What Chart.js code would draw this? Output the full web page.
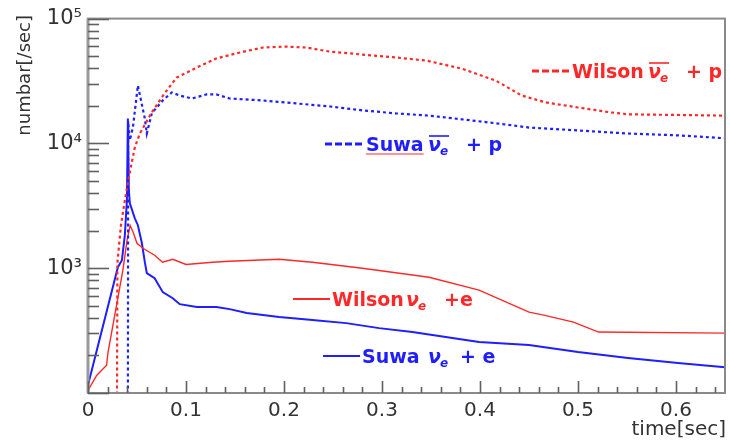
<!DOCTYPE html>
<html>
<head>
<meta charset="utf-8">
<script src="https://cdn.jsdelivr.net/npm/chart.js@4/dist/chart.umd.min.js"></script>
<style>
html,body{margin:0;padding:0;background:#fff;}
#wrap{width:730px;height:444px;position:relative;}
</style>
</head>
<body>
<div id="wrap"><canvas id="c" width="730" height="444"></canvas></div>
<script>
// ---- data (time in sec, rate in number/sec) ----
const wilsonAntiT = [0.0295, 0.0300, 0.0336, 0.0376, 0.0427, 0.0478, 0.0529, 0.065, 0.078, 0.0905, 0.111, 0.131, 0.155, 0.178, 0.202, 0.223, 0.246, 0.280, 0.314, 0.345, 0.381, 0.416, 0.4425, 0.467, 0.500, 0.534, 0.551, 0.650];
const wilsonAntiV = [50, 1100, 2200, 3500, 5900, 9300, 12000, 17700, 25100, 33700, 40500, 47900, 53500, 58600, 59700, 58600, 54500, 51500, 48800, 46100, 39800, 31900, 24200, 21300, 19400, 17700, 17100, 16700];

const suwaAntiT = [0.0407, 0.0410, 0.0427, 0.0458, 0.0509, 0.058, 0.060, 0.0651, 0.0763, 0.0855, 0.0936, 0.106, 0.121, 0.131, 0.1445, 0.178, 0.2126, 0.246, 0.280, 0.314, 0.348, 0.3815, 0.416, 0.450, 0.500, 0.551, 0.602, 0.650];
const suwaAntiV = [50, 15000, 10600, 13400, 29100, 15800, 12000, 17400, 22100, 25600, 24200, 22900, 24700, 24700, 22900, 22100, 20900, 19800, 18400, 17400, 16700, 15600, 14500, 13400, 12700, 12000, 11600, 11000];

const wilsonT = [0, 0.009, 0.019, 0.0203, 0.028, 0.0356, 0.040, 0.043, 0.046, 0.050, 0.056, 0.068, 0.076, 0.0865, 0.100, 0.127, 0.144, 0.195, 0.229, 0.280, 0.348, 0.399, 0.450, 0.465, 0.4954, 0.521, 0.650];
const wilsonV = [105, 139, 167, 209, 450, 964, 1700, 2200, 1950, 1585, 1445, 1270, 1117, 1180, 1072, 1117, 1138, 1180, 1117, 1000, 847, 667, 445, 421, 370, 308, 302];

const suwaT = [0, 0.0305, 0.0346, 0.0376, 0.0397, 0.0407, 0.0417, 0.0427, 0.0478, 0.0509, 0.055, 0.058, 0.060, 0.068, 0.0763, 0.0865, 0.0936, 0.111, 0.131, 0.1445, 0.162, 0.195, 0.229, 0.2635, 0.297, 0.331, 0.399, 0.450, 0.500, 0.551, 0.602, 0.650];
const suwaV = [116, 1019, 1160, 1840, 3500, 15800, 4200, 3310, 2510, 2210, 1585, 1117, 912, 832, 643, 575, 515, 488, 488, 470, 437, 406, 384, 363, 331, 308, 256, 242, 213, 191, 174, 161];

const xTickValues = [0, 0.1, 0.2, 0.3, 0.4, 0.5, 0.6];
const xTickLabels = ['0', '0.1', '0.2', '0.3', '0.4', '0.5', '0.6'];
const yTickValues = [1000, 10000, 100000];
const yTickLabels = ['10³', '10⁴', '10⁵'];
const xTitle = 'time[sec]';
const yTitle = 'numbar[/sec]';

const RED = 'rgb(255,40,40)';
const BLUE = 'rgb(30,30,255)';

function pts(t, v) { return t.map((x, i) => ({x: x, y: v[i]})); }

const framePlugin = {
  id: 'frame',
  afterDraw(chart) {
    const ctx = chart.ctx;
    const a = chart.chartArea;
    const xs = chart.scales.x, ys = chart.scales.y;
    ctx.save();
    // frame
    ctx.strokeStyle = '#8a8a8a';
    ctx.lineWidth = 2;
    ctx.strokeRect(a.left, a.top, a.right - a.left, a.bottom - a.top);
    ctx.strokeStyle = '#9a9a9a';
    ctx.lineWidth = 3;
    ctx.beginPath(); ctx.moveTo(a.left, a.top); ctx.lineTo(a.left, a.bottom); ctx.stroke();
    // y ticks (inward)
    ctx.strokeStyle = '#606060';
    ctx.lineWidth = 1.6;
    for (let d = 2; d <= 5; d++) {
      for (let k = 1; k <= 9; k++) {
        const v = k * Math.pow(10, d);
        if (v < ys.min || v > ys.max) continue;
        const y = Math.round(ys.getPixelForValue(v)) + 0.5;
        const len = (k === 1) ? 21 : 11;
        ctx.beginPath(); ctx.moveTo(a.left, y); ctx.lineTo(a.left + len, y); ctx.stroke();
      }
    }
    // x ticks (inward)
    for (let i = 0; i <= 32; i++) {
      const t = i * 0.02;
      if (t > xs.max) break;
      const x = Math.round(xs.getPixelForValue(t)) + 0.5;
      const len = (i % 5 === 0) ? 12 : 6;
      ctx.beginPath(); ctx.moveTo(x, a.bottom); ctx.lineTo(x, a.bottom - len); ctx.stroke();
    }
    // axis titles
    ctx.fillStyle = '#333';
    ctx.font = '20px "DejaVu Sans"';
    ctx.textAlign = 'right';
    ctx.textBaseline = 'alphabetic';
    ctx.fillText(xTitle, 726, 435);
    ctx.save();
    ctx.translate(30, 15);
    ctx.rotate(-Math.PI / 2);
    ctx.font = '18px "DejaVu Sans"';
    ctx.textAlign = 'right';
    ctx.fillText(yTitle, 0, 0);
    ctx.restore();

    // annotation labels
    function label(o) {
      ctx.strokeStyle = o.color; ctx.fillStyle = o.color;
      ctx.lineWidth = o.dashed ? 3 : 2;
      ctx.setLineDash(o.dashed ? [7, 3] : []);
      ctx.beginPath(); ctx.moveTo(o.lx0, o.ly); ctx.lineTo(o.lx1, o.ly); ctx.stroke();
      ctx.setLineDash([]);
      ctx.textAlign = 'left';
      ctx.font = 'bold 19px "DejaVu Sans"';
      ctx.fillText(o.name, o.nameX, o.base);
      ctx.font = 'bold italic 19px "DejaVu Sans"';
      ctx.fillText('ν', o.nuX, o.base);
      const nuW = ctx.measureText('ν').width;
      ctx.font = 'bold italic 12px "DejaVu Sans"';
      ctx.fillText('e', o.nuX + nuW - 1, o.base + 4);
      const eW = ctx.measureText('e').width;
      if (o.bar) {
        ctx.lineWidth = 1.6;
        ctx.beginPath(); ctx.moveTo(o.nuX + 1, o.base - 15); ctx.lineTo(o.nuX + nuW + eW, o.base - 15); ctx.stroke();
      }
      ctx.font = 'bold 19px "DejaVu Sans"';
      ctx.fillText(o.tail, o.tailX, o.base);
      if (o.squiggle) {
        ctx.strokeStyle = RED; ctx.lineWidth = 1.2;
        ctx.beginPath(); ctx.moveTo(o.nameX, o.base + 3); ctx.lineTo(o.nameX + ctx.measureText(o.name).width, o.base + 3); ctx.stroke();
      }
    }
    label({color: RED, dashed: true, lx0: 532, lx1: 570, ly: 71, name: 'Wilson', nameX: 572, nuX: 648, tail: '+ p', tailX: 686, base: 78, bar: true});
    label({color: BLUE, dashed: true, lx0: 325, lx1: 364, ly: 144, name: 'Suwa', nameX: 366, nuX: 428, tail: '+ p', tailX: 466, base: 151, bar: true, squiggle: true});
    label({color: RED, dashed: false, lx0: 293, lx1: 330, ly: 299, name: 'Wilson', nameX: 332, nuX: 406, tail: '+e', tailX: 444, base: 306, bar: false});
    label({color: BLUE, dashed: false, lx0: 323, lx1: 360, ly: 356, name: 'Suwa', nameX: 362, nuX: 428, tail: '+ e', tailX: 460, base: 363, bar: false});
    ctx.restore();
  }
};

new Chart(document.getElementById('c'), {
  type: 'line',
  data: {
    datasets: [
      {label: 'Wilson anti-nue + p', data: pts(wilsonAntiT, wilsonAntiV), borderColor: RED, borderWidth: 2.2, borderDash: [3, 3]},
      {label: 'Suwa anti-nue + p', data: pts(suwaAntiT, suwaAntiV), borderColor: BLUE, borderWidth: 2.2, borderDash: [3, 3]},
      {label: 'Wilson nue + e', data: pts(wilsonT, wilsonV), borderColor: RED, borderWidth: 1.4},
      {label: 'Suwa nue + e', data: pts(suwaT, suwaV), borderColor: BLUE, borderWidth: 2}
    ]
  },
  options: {
    responsive: false,
    animation: false,
    events: [],
    elements: {point: {radius: 0}, line: {tension: 0, fill: false}},
    layout: {padding: {left: 0, top: 18, right: 5, bottom: 0}},
    plugins: {legend: {display: false}, tooltip: {enabled: false}},
    scales: {
      x: {
        type: 'linear', min: 0, max: 0.65,
        afterBuildTicks: s => { s.ticks = xTickValues.map(v => ({value: v})); },
        afterFit: s => { s.height = 51; },
        grid: {display: false, drawTicks: false},
        border: {display: false},
        ticks: {
          autoSkip: false, maxRotation: 0, padding: 6,
          color: '#333', font: {family: 'DejaVu Sans', size: 20},
          callback: (v) => { const i = xTickValues.indexOf(v); return i >= 0 ? xTickLabels[i] : ''; }
        }
      },
      y: {
        type: 'logarithmic', min: 100, max: 100000,
        afterBuildTicks: s => { s.ticks = yTickValues.map(v => ({value: v})); },
        afterFit: s => { s.width = 88; },
        grid: {display: false, drawTicks: false},
        border: {display: false},
        ticks: {
          autoSkip: false, padding: 6,
          color: '#333', font: {family: 'DejaVu Sans', size: 21},
          callback: (v) => { const i = yTickValues.indexOf(v); return i >= 0 ? yTickLabels[i] : ''; }
        }
      }
    }
  },
  plugins: [framePlugin]
});
</script>
</body>
</html>
